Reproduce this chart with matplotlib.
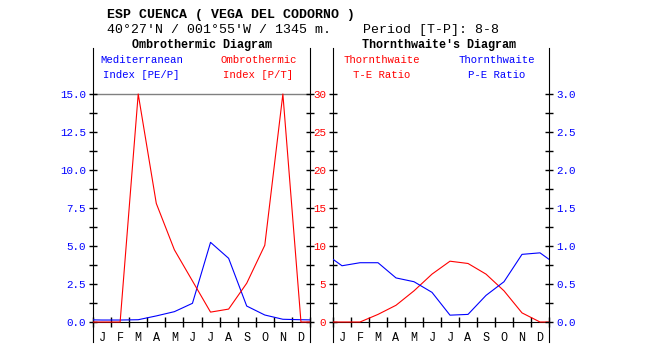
"""Ombrothermic and Thornthwaite diagrams, Cuenca (Vega del Codorno)."""

import numpy as np
import matplotlib
matplotlib.use("Agg")
import matplotlib.pyplot as plt
from matplotlib.ticker import FixedLocator, NullFormatter, FixedFormatter

plt.rcParams["font.family"] = ["Liberation Mono", "DejaVu Sans Mono"]

months = ["J", "F", "M", "A", "M", "J", "J", "A", "S", "O", "N", "D"]
# left panel
mediterranean_pe_p = [0.13, 0.13, 0.15, 0.40, 0.68, 1.23, 5.24, 4.19, 1.05, 0.46, 0.18, 0.15]
ombrothermic_p_t = [0.0, 0.0, 30.0, 15.6, 9.5, 5.4, 1.3, 1.7, 5.1, 10.1, 30.0, 0.0]
# right panel
te_ratio = [0.0, 0.0, 1.0, 2.2, 4.1, 6.3, 8.0, 7.7, 6.3, 4.1, 1.2, 0.0]
pe_ratio = [0.74, 0.78, 0.78, 0.58, 0.53, 0.39, 0.09, 0.10, 0.35, 0.53, 0.89, 0.91]

BLUE = "#0000ff"
RED = "#ff0000"
W, H = 647, 353


def _series(vals):
    # month centres plus wrap-around value at both edges
    edge = (vals[0] + vals[-1]) / 2
    x = np.concatenate([[0], np.arange(12) + 0.5, [12]])
    y = np.concatenate([[edge], vals, [edge]])
    return x, y


def _fx(px):
    return px / W


def _fy(py):
    return 1 - py / H


def _y_axis(ax, vmax, step, side, color, fmt, labels=True):
    ax.yaxis.set_major_locator(FixedLocator(np.arange(0, vmax + 1e-9, step)))
    ax.yaxis.set_minor_locator(FixedLocator(np.arange(step / 2, vmax, step)))
    if labels:
        ticks = np.arange(0, vmax + 1e-9, step)
        ax.yaxis.set_major_formatter(FixedFormatter([fmt % t for t in ticks]))
    else:
        ax.yaxis.set_major_formatter(NullFormatter())
    ax.yaxis.set_minor_formatter(NullFormatter())
    ax.tick_params(axis="y", which="both", direction="inout", length=6, width=1,
                   color="black", labelcolor=color, labelsize=7.8, pad=2)
    if side == "right":
        ax.yaxis.tick_right()
    else:
        ax.yaxis.tick_left()


def _x_axis(ax):
    ax.set_xlim(0, 12)
    ax.xaxis.set_major_locator(FixedLocator(range(13)))
    ax.xaxis.set_major_formatter(NullFormatter())
    ax.xaxis.set_minor_locator(FixedLocator(np.arange(12) + 0.5))
    ax.xaxis.set_minor_formatter(FixedFormatter(months))
    ax.tick_params(axis="x", which="major", direction="inout", length=7, width=1)
    ax.tick_params(axis="x", which="minor", length=0, pad=7.5, labelsize=8.5)
    for lab in ax.xaxis.get_minorticklabels():
        lab.set_fontweight("bold")
    ax.spines["bottom"].set_position(("data", 0))
    ax.spines["top"].set_visible(False)


fig = plt.figure(figsize=(W / 100, H / 100), dpi=100)

bottom = _fy(342)
height = (342 - 48) / H
lo = -(342 - 322) * 15 / 228
hi = 15 + (94 - 48) * 15 / 228

# Ombrothermic diagram
ax1 = fig.add_axes([_fx(93), bottom, (310 - 93) / W, height])
ax1.set_ylim(lo, hi)
_x_axis(ax1)
_y_axis(ax1, 15, 2.5, "left", BLUE, "%.1f")
ax1.spines["right"].set_visible(False)
ax1.axhline(15, color="#808080", lw=1, zorder=1)
x, y = _series(mediterranean_pe_p)
ax1.plot(x, y, color=BLUE, lw=0.8, zorder=3)

ax1b = ax1.twinx()
ax1b.set_ylim(lo * 2, hi * 2)
for s in ("left", "top", "bottom"):
    ax1b.spines[s].set_visible(False)
_y_axis(ax1b, 30, 5, "right", RED, "%d", labels=False)
x, y = _series(ombrothermic_p_t)
ax1b.plot(x, y, color=RED, lw=0.8, zorder=3)

# Thornthwaite diagram
ax2 = fig.add_axes([_fx(333), bottom, (549 - 333) / W, height])
ax2.set_ylim(lo * 2, hi * 2)
_x_axis(ax2)
_y_axis(ax2, 30, 5, "left", RED, "%d")
ax2.spines["right"].set_visible(False)
x, y = _series(te_ratio)
ax2.plot(x, y, color=RED, lw=0.8, zorder=3)

ax2b = ax2.twinx()
ax2b.set_ylim(lo / 5, hi / 5)
for s in ("left", "top", "bottom"):
    ax2b.spines[s].set_visible(False)
_y_axis(ax2b, 3.0, 0.5, "right", BLUE, "%.1f")
x, y = _series(pe_ratio)
ax2b.plot(x, y, color=BLUE, lw=0.8, zorder=3)

# header texts
fig.text(_fx(107), _fy(15), "ESP CUENCA ( VEGA DEL CODORNO )", fontsize=9.5,
         fontweight="bold", ha="left", va="center")
fig.text(_fx(107), _fy(30), "40°27'N / 001°55'W / 1345 m.    Period [T-P]: 8-8",
         fontsize=9.5, ha="left", va="center")
fig.text(_fx(201.5), _fy(45), "Ombrothermic Diagram", fontsize=8.5,
         fontweight="bold", ha="center", va="center")
fig.text(_fx(439), _fy(45), "Thornthwaite's Diagram", fontsize=8.5,
         fontweight="bold", ha="center", va="center")

legend = [
    (141.5, "Mediterranean", "Index [PE/P]", BLUE),
    (258.5, "Ombrothermic", "Index [P/T]", RED),
    (382, "Thornthwaite", "T-E Ratio", RED),
    (497, "Thornthwaite", "P-E Ratio", BLUE),
]
for cx, l1, l2, c in legend:
    fig.text(_fx(cx), _fy(60), l1, fontsize=7.7, color=c, ha="center", va="center")
    fig.text(_fx(cx), _fy(75), l2, fontsize=7.7, color=c, ha="center", va="center")

fig.savefig("out.png", dpi=100)
